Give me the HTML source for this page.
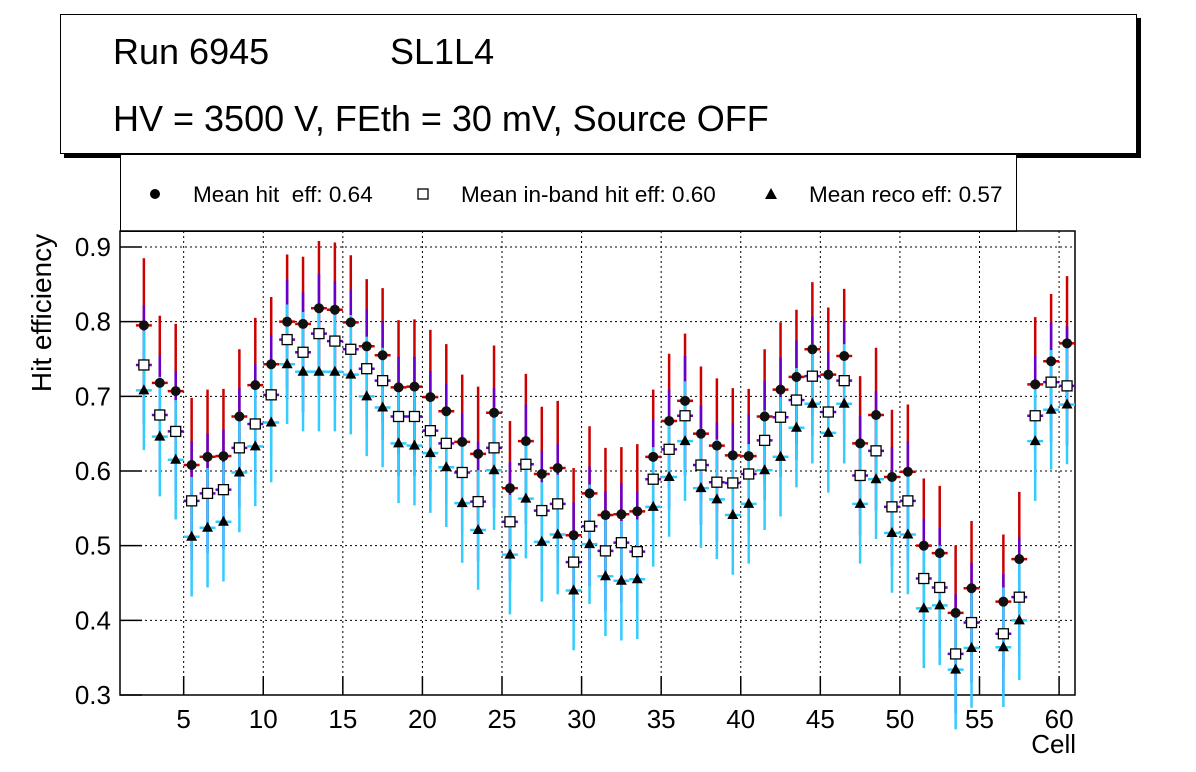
<!DOCTYPE html>
<html><head><meta charset="utf-8"><style>
body{margin:0;background:#fff;}
svg{display:block;font-family:"Liberation Sans",sans-serif;}
</style></head><body>
<svg id="c" width="1196" height="772">
  <rect x="0" y="0" width="1196" height="772" fill="#fff"/>
  <rect x="64" y="18" width="1077" height="140" fill="#000"/>
  <rect x="60.5" y="14.5" width="1076" height="139" fill="#fff" stroke="#000" stroke-width="1"/>
  <text x="113" y="64" font-size="36">Run 6945</text>
  <text x="390" y="64" font-size="36">SL1L4</text>
  <text x="113" y="131" font-size="36">HV = 3500 V, FEth = 30 mV, Source OFF</text>
  <rect x="120.5" y="154.5" width="896" height="77" fill="#fff" stroke="#000"/>
  <g><circle cx="155" cy="194" r="5" fill="#000"/><text x="193" y="202" font-size="22.5" xml:space="preserve">Mean hit  eff: 0.64</text></g>
  <g><rect x="418" y="189" width="10" height="10" fill="#fff" stroke="#000" stroke-width="1.3"/><text x="461" y="202" font-size="22.5">Mean in-band hit eff: 0.60</text></g>
  <g><path d="M771,188 L777,199 L765,199 Z" fill="#000"/><text x="809" y="202" font-size="22.5">Mean reco eff: 0.57</text></g>
  <g id="grid"></g>
  <g id="axes"></g>
  <g id="marks"></g>
  <text x="51" y="313" font-size="28" text-anchor="middle" transform="rotate(-90 51 313)">Hit efficiency</text>
  <text x="1076" y="753" font-size="26" text-anchor="end">Cell</text>
</svg>
<script>
const cells=[2.5,3.5,4.5,5.5,6.5,7.5,8.5,9.5,10.5,11.5,12.5,13.5,14.5,15.5,16.5,17.5,18.5,19.5,20.5,21.5,22.5,23.5,24.5,25.5,26.5,27.5,28.5,29.5,30.5,31.5,32.5,33.5,34.5,35.5,36.5,37.5,38.5,39.5,40.5,41.5,42.5,43.5,44.5,45.5,46.5,47.5,48.5,49.5,50.5,51.5,52.5,53.5,54.5,56.5,57.5,58.5,59.5,60.5];
const hitEff=[0.795,0.718,0.707,0.608,0.619,0.620,0.673,0.715,0.743,0.800,0.797,0.818,0.816,0.799,0.767,0.755,0.712,0.713,0.699,0.680,0.639,0.623,0.678,0.577,0.640,0.596,0.604,0.514,0.570,0.541,0.542,0.546,0.619,0.667,0.694,0.650,0.634,0.621,0.620,0.673,0.709,0.726,0.763,0.729,0.754,0.637,0.675,0.592,0.599,0.500,0.490,0.410,0.443,0.425,0.482,0.716,0.747,0.771];
const inbandEff=[0.742,0.675,0.653,0.560,0.570,0.575,0.631,0.663,0.702,0.776,0.759,0.784,0.774,0.763,0.737,0.721,0.673,0.673,0.654,0.637,0.598,0.559,0.631,0.532,0.609,0.547,0.556,0.478,0.526,0.493,0.504,0.492,0.589,0.629,0.674,0.608,0.585,0.584,0.596,0.641,0.672,0.695,0.727,0.679,0.721,0.594,0.627,0.552,0.560,0.456,0.444,0.355,0.397,0.382,0.431,0.674,0.719,0.714];
const recoEff=[0.708,0.646,0.615,0.512,0.524,0.532,0.598,0.633,0.665,0.743,0.733,0.733,0.733,0.729,0.700,0.685,0.637,0.634,0.624,0.605,0.557,0.521,0.601,0.488,0.563,0.505,0.515,0.440,0.502,0.459,0.453,0.455,0.552,0.592,0.640,0.577,0.562,0.541,0.556,0.601,0.619,0.658,0.690,0.651,0.690,0.556,0.589,0.517,0.515,0.416,0.420,0.334,0.363,0.364,0.400,0.640,0.682,0.689];
const hitErr=0.09, inbandErr=0.08, recoErr=0.08;
const xTicks=[5,10,15,20,25,30,35,40,45,50,55,60];
const yTicks=[0.3,0.4,0.5,0.6,0.7,0.8,0.9];
const yTickLabels=["0.3","0.4","0.5","0.6","0.7","0.8","0.9"];

const L=120,R=1075,T=231,B=695,xMin=1,xMax=61,yMin=0.3,yMax=0.9;
const yTop=247;
const X=v=>L+(v-xMin)*(R-L)/(xMax-xMin);
const Y=v=>B-(v-yMin)*(B-yTop)/(yMax-yMin);
const NS="http://www.w3.org/2000/svg";
function mk(parent,tag,attrs){const e=document.createElementNS(NS,tag);for(const k in attrs)e.setAttribute(k,attrs[k]);parent.appendChild(e);return e;}
const grid=document.getElementById('grid'),axes=document.getElementById('axes'),marks=document.getElementById('marks');
xTicks.forEach(t=>{
  const g=mk(grid,'line',{x1:X(t),x2:X(t),y1:T,y2:B,stroke:'#000','stroke-width':1,'stroke-dasharray':'2,3'});
  
  
  const tk=mk(axes,'line',{x1:X(t),x2:X(t),y1:B,y2:B-19,stroke:'#000','stroke-width':1.5});
  
  
  const tx=mk(axes,'text',{x:X(t),y:728,'font-size':26,'text-anchor':'middle'});
  tx.textContent=String(t);
  
  
});
yTicks.forEach((t,i)=>{
  if(i>0){const g=mk(grid,'line',{x1:L,x2:R,y1:Y(t),y2:Y(t),stroke:'#000','stroke-width':1,'stroke-dasharray':'2,3'});
  
  }
  const tk=mk(axes,'line',{x1:L,x2:L+22,y1:Y(t),y2:Y(t),stroke:'#000','stroke-width':1.5});
  
  
  const tx=mk(axes,'text',{x:111,y:Y(t)+9,'font-size':26,'text-anchor':'end'});
  tx.textContent=yTickLabels[i];
  
  
});
const fr=mk(axes,'rect',{x:L,y:T,width:R-L,height:B-T,fill:'none',stroke:'#000','stroke-width':1.5});



function series(vals,err,color,name){
  const g=mk(marks,'g',{});
  
  
  vals.forEach((v,i)=>{
    const cx=X(cells[i]),cy=Y(v);
    mk(g,'line',{x1:cx,x2:cx,y1:Y(v+err),y2:Y(v-err),stroke:color,'stroke-width':2.5});
    mk(g,'line',{x1:X(cells[i]-0.5),x2:X(cells[i]+0.5),y1:cy,y2:cy,stroke:color,'stroke-width':2.5});
  });
}
function markers(vals,kind,name){
  const g=mk(marks,'g',{});
  
  
  vals.forEach((v,i)=>{
    const cx=X(cells[i]),cy=Y(v);
    let m;
    if(kind==='circle') m=mk(g,'circle',{cx:cx,cy:cy,r:5,fill:'#111'});
    else if(kind==='square') m=mk(g,'rect',{x:cx-5,y:cy-5,width:10,height:10,fill:'#fff',stroke:'#000','stroke-width':1.3});
    else m=mk(g,'path',{d:`M${cx},${cy-6} L${cx+5.5},${cy+4} L${cx-5.5},${cy+4} Z`,fill:'#000'});
    
    
  });
}
series(hitEff,hitErr,'#cc0000','hit-eff-errors');
series(inbandEff,inbandErr,'#6600cc','inband-eff-errors');
series(recoEff,recoErr,'#33ccff','reco-eff-errors');
markers(hitEff,'circle','hit-eff');
markers(inbandEff,'square','inband-eff');
markers(recoEff,'tri','reco-eff');
</script>
</body></html>
